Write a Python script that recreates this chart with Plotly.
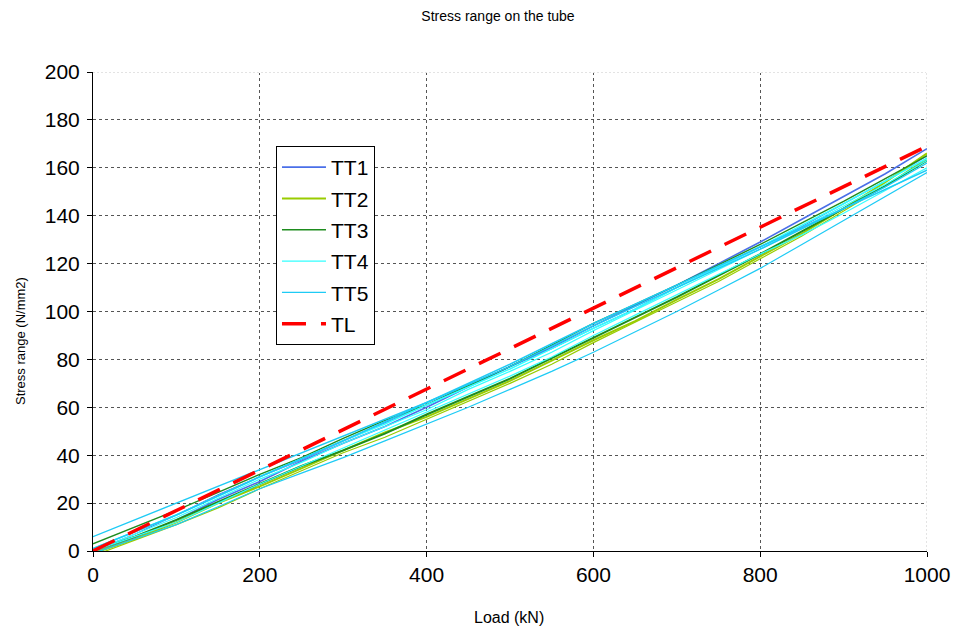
import plotly.graph_objects as go

# Load steps (kN) at which the stress range was recorded
load = [0, 50, 100, 150, 200, 250, 300, 350, 400, 450, 500,
        550, 600, 650, 700, 750, 800, 850, 900, 950, 1000]

# Measured stress range (N/mm2) per strain gauge, grouped by tube test
tt1_a = [-1, 5.5, 13, 21.5, 29, 37.5, 45, 52, 60, 68.5, 77, 85, 94, 102.5, 111, 120, 129, 138.5, 148, 157.5, 168]
tt1_b = [0, 7, 15, 23.5, 31, 38, 46, 53.5, 61, 69.5, 77, 84.5, 93, 101, 110, 118.5, 127, 135.5, 145, 154.5, 165]

tt2_a = [-1, 5, 12, 20, 27, 34.5, 42, 49.5, 56, 63.5, 71, 79.5, 88, 96, 105, 113.5, 123, 132.5, 143, 154, 166]
tt2_b = [-2, 4.5, 11, 18, 26, 33.5, 41, 47.5, 55, 62.5, 70, 78, 87, 95.5, 104, 112.5, 122, 131.5, 142, 152.5, 164]

tt3_a = [3, 10, 17, 24.5, 32, 39, 47, 54.5, 61, 69, 77, 86, 95, 103, 111, 119.5, 128, 137, 146, 155.5, 165]
tt3_b = [0, 6, 13, 20.5, 28, 35.5, 42, 49, 57, 64.5, 72, 80.5, 89, 97.5, 106, 115, 124, 133.5, 143, 152.5, 163]

tt4_a = [0, 7, 14, 22, 30, 37, 45, 52, 59, 67.5, 75, 83, 92, 100.5, 109, 117.5, 126, 135, 144, 153, 163]
tt4_b = [1, 8, 15, 23, 31, 38.5, 46, 53, 61, 68.5, 76, 84.5, 93, 101, 110, 118.5, 127, 136, 145, 154.5, 164]
tt4_c = [0, 6, 12, 20, 28, 35.5, 43, 50.5, 58, 65.5, 73, 81, 90, 98.5, 107, 115.5, 124, 132, 141, 150.5, 160]

tt5_a = [6, 13, 20, 27, 34, 41, 48, 55, 62, 69.5, 77, 85.5, 94, 102, 110, 118, 126, 134.5, 143, 152, 162]
tt5_b = [-1, 5, 11, 18.5, 26, 32.5, 39, 46, 53, 60, 67.5, 75, 83, 91.5, 100, 109, 118, 128, 138, 148, 158]
tt5_c = [1, 8, 15, 23, 31, 38.5, 46, 54, 62, 70, 78, 86.5, 95, 103, 111, 119, 127, 135, 143, 151, 159]

# Theoretical line
tl_load = [0, 1000]
tl_stress = [0, 169]

groups = [
    ("TT1", "#4A6FE8", [(tt1_a, 1.6), (tt1_b, 1.2)]),
    ("TT2", "#99CC00", [(tt2_a, 2.0), (tt2_b, 1.2)]),
    ("TT3", "#1E8C1E", [(tt3_a, 1.4), (tt3_b, 2.0)]),
    ("TT4", "#33FFFF", [(tt4_a, 1.2), (tt4_b, 1.6), (tt4_c, 1.2)]),
    ("TT5", "#1ECBF5", [(tt5_a, 1.4), (tt5_b, 1.2), (tt5_c, 1.6)]),
]

font_family = "Arial, 'Liberation Sans', sans-serif"

fig = go.Figure()
for name, color, series in groups:
    for i, (vals, w) in enumerate(series):
        fig.add_trace(go.Scatter(
            x=load, y=vals, mode="lines", name=name, legendgroup=name,
            showlegend=(i == 0), line=dict(color=color, width=w),
        ))

fig.add_trace(go.Scatter(
    x=tl_load, y=tl_stress, mode="lines", name="TL", legendgroup="TL",
    line=dict(color="#FF0000", width=3.5, dash="24px,15px"),
))

# Lighter dotted outline at the top and right edges of the plot area
for x0, x1, y0, y1 in [(0, 1000, 200, 200), (1000, 1000, 0, 200)]:
    fig.add_shape(type="line", xref="x", yref="y", x0=x0, x1=x1, y0=y0, y1=y1,
                  layer="between", line=dict(color="white", width=2))
    fig.add_shape(type="line", xref="x", yref="y", x0=x0, x1=x1, y0=y0, y1=y1,
                  layer="between", line=dict(color="#C8C8C8", width=1, dash="2px,2px"))

axis_common = dict(
    showline=True, linecolor="black", linewidth=1,
    ticks="outside", ticklen=5, tickcolor="black", tickwidth=1,
    showgrid=True, gridcolor="#555555", gridwidth=1, griddash="3px,3px",
    zeroline=False, automargin=False,
    tickfont=dict(family=font_family, size=21, color="black"),
)

fig.update_layout(
    width=957, height=632,
    margin=dict(l=93, r=30, t=72, b=81),
    paper_bgcolor="white", plot_bgcolor="white",
    font=dict(family=font_family, color="black"),
    title=dict(text="Stress range on the tube", x=498 / 957, xref="container",
               y=1 - 16 / 632, yref="container", xanchor="center", yanchor="middle",
               font=dict(family=font_family, size=14, color="black")),
    xaxis=dict(range=[0, 1000], tickvals=[0, 200, 400, 600, 800, 1000], **axis_common),
    yaxis=dict(range=[0, 200], tickvals=list(range(0, 201, 20)),
               ticklabelstandoff=3, **axis_common),
    legend=dict(x=0.2194, y=0.8455, xanchor="left", yanchor="top",
                bgcolor="white", bordercolor="black", borderwidth=1,
                font=dict(family=font_family, size=21, color="black"),
                itemwidth=44, tracegroupgap=1, traceorder="grouped"),
    showlegend=True,
    annotations=[
        dict(text="Load (kN)", xref="paper", yref="paper",
             x=(509 - 93) / 834, y=-(617 - 551) / 479,
             xanchor="center", yanchor="middle", showarrow=False,
             font=dict(family=font_family, size=16, color="black")),
        dict(text="Stress range (N/mm2)", xref="paper", yref="paper",
             x=(20 - 93) / 834, y=(551 - 341) / 479, textangle=-90,
             xanchor="center", yanchor="middle", showarrow=False,
             font=dict(family=font_family, size=13, color="black")),
    ],
)

fig.write_html("out.html")
